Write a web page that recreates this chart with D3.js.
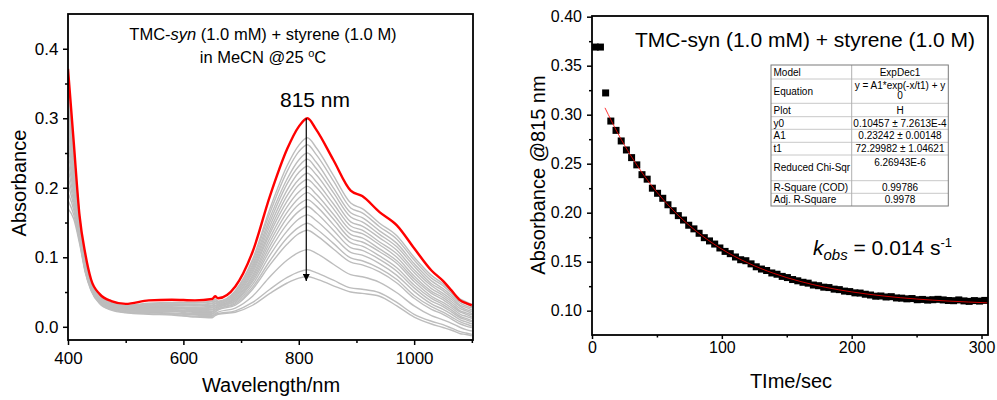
<!DOCTYPE html>
<html>
<head>
<meta charset="utf-8">
<script src="https://cdn.jsdelivr.net/npm/d3@7"></script>
<style>
    html, body { margin: 0; padding: 0; background: #fff; }
    #chart { width: 997px; height: 400px; }
    svg text { font-family: "Liberation Sans", Arial, sans-serif; fill: #000; }
</style>
</head>
<body>
<div id="chart"></div>
<script>
// ---- left panel: UV-vis spectra ----
const wavelengths = [400, 410, 420, 430, 440, 455, 475, 500, 540, 580, 620, 650, 655, 660, 690, 720, 750, 780, 800, 815, 830, 860, 890, 910, 940, 970, 1000, 1030, 1050, 1065, 1080, 1090, 1100];

const redSpectrum = [.371, .265, .160, .105, .068, .047, .037, .033, .038, .039, .038, .040, .044, .041, .058, .108, .188, .256, .288, .300, .284, .240, .196, .188, .165, .146, .113, .081, .066, .052, .038, .034, .031];

const graySpectra = [
    [.355, .255, .160, .100, .066, .045, .035, .031, .034, .035, .035, .037, .040, .037, .052, .097, .170, .232, .261, .272, .258, .218, .178, .170, .149, .131, .100, .074, .062, .051, .040, .036, .032],
    [.343, .249, .157, .099, .065, .044, .034, .030, .033, .034, .034, .036, .039, .036, .051, .094, .164, .224, .252, .262, .248, .210, .171, .164, .144, .126, .096, .070, .059, .048, .037, .033, .029],
    [.332, .243, .155, .097, .064, .044, .034, .030, .032, .033, .032, .034, .037, .035, .049, .090, .157, .213, .240, .250, .237, .200, .164, .157, .138, .120, .091, .066, .055, .045, .034, .030, .027],
    [.320, .236, .153, .096, .063, .043, .033, .029, .031, .032, .031, .033, .036, .034, .047, .087, .151, .206, .231, .241, .228, .193, .158, .151, .133, .115, .087, .062, .052, .042, .031, .028, .024],
    [.309, .230, .150, .095, .063, .042, .032, .028, .030, .031, .030, .031, .034, .033, .046, .084, .145, .197, .222, .231, .219, .185, .151, .145, .128, .110, .082, .059, .048, .039, .029, .025, .022],
    [.297, .224, .148, .093, .062, .041, .032, .028, .029, .029, .028, .030, .033, .032, .044, .081, .139, .189, .212, .221, .209, .177, .145, .139, .122, .105, .078, .055, .045, .036, .026, .023, .019],
    [.286, .218, .145, .092, .061, .041, .031, .027, .028, .028, .027, .028, .031, .031, .043, .078, .134, .181, .204, .212, .201, .170, .139, .134, .118, .100, .073, .051, .042, .033, .023, .020, .017],
    [.274, .211, .143, .090, .060, .040, .030, .026, .027, .027, .026, .027, .030, .030, .041, .074, .128, .173, .194, .202, .191, .162, .133, .128, .112, .095, .069, .048, .039, .030, .021, .018, .014],
    [.263, .205, .140, .089, .059, .039, .030, .026, .026, .026, .025, .025, .028, .030, .040, .071, .122, .165, .185, .193, .183, .155, .127, .122, .108, .091, .065, .044, .035, .027, .018, .015, .012],
    [.251, .199, .138, .088, .058, .038, .029, .025, .025, .025, .023, .024, .027, .028, .038, .068, .116, .157, .176, .183, .174, .147, .121, .116, .102, .085, .060, .041, .032, .024, .015, .012, .009],
    [.239, .193, .135, .086, .057, .038, .028, .024, .024, .024, .022, .022, .025, .028, .037, .065, .110, .148, .166, .173, .164, .139, .114, .110, .097, .080, .056, .037, .029, .021, .013, .010, .007],
    [.228, .186, .133, .085, .056, .037, .027, .023, .023, .023, .021, .021, .024, .026, .035, .061, .103, .138, .155, .161, .153, .130, .107, .103, .091, .074, .051, .033, .025, .018, .010, .007, .004],
    [.216, .180, .130, .084, .056, .036, .027, .023, .022, .022, .019, .019, .022, .025, .033, .057, .095, .128, .143, .149, .141, .120, .099, .095, .084, .068, .045, .029, .021, .014, .007, .004, .001],
    [.205, .174, .128, .082, .055, .035, .026, .022, .021, .020, .018, .018, .021, .024, .031, .054, .089, .119, .134, .139, .132, .112, .093, .089, .079, .063, .041, .025, .018, .011, .004, .001, -.001],
    [.193, .168, .125, .081, .054, .035, .025, .021, .020, .019, .017, .016, .019, .021, .027, .044, .072, .096, .107, .111, .106, .090, .075, .072, .064, .049, .030, .016, .010, .005, -.001, -.004, -.006],
    [.182, .161, .123, .079, .053, .034, .025, .021, .019, .018, .015, .015, .018, .019, .023, .035, .054, .071, .079, .082, .078, .067, .056, .054, .049, .035, .018, .008, .003, -.002, -.007, -.009, -.011],
    [.170, .155, .120, .078, .052, .033, .024, .020, .018, .017, .014, .013, .016, .018, .021, .031, .048, .063, .070, .072, .069, .059, .050, .048, .044, .030, .014, .004, -.001, -.005, -.010, -.011, -.013]
];

// arrow: wavelength, start and end absorbance
const arrowWavelength = 813;
const arrowRange = [0.300, 0.066];

const specXTicks = [400, 600, 800, 1000];
const specXMinor = [500, 700, 900, 1100];
const specYTicks = [0.0, 0.1, 0.2, 0.3, 0.4];
const specYMinor = [0.05, 0.15, 0.25, 0.35];

// ---- right panel: kinetic trace at 815 nm ----
const timePoints = [2.5, 6.5, 10.5, 14.5, 18.5, 22.5, 26.5, 30.5, 34.5, 38.5, 42.5, 46.5, 50.5, 54.5, 58.5, 62.5, 66.5, 70.5, 74.5, 78.5, 82.5, 86.5, 90.5, 94.5, 98.5, 102.5, 106.5, 110.5, 114.5, 118.5, 122.5, 126.5, 130.5, 134.5, 138.5, 142.5, 146.5, 150.5, 154.5, 158.5, 162.5, 166.5, 170.5, 174.5, 178.5, 182.5, 186.5, 190.5, 194.5, 198.5, 202.5, 206.5, 210.5, 214.5, 218.5, 222.5, 226.5, 230.5, 234.5, 238.5, 242.5, 246.5, 250.5, 254.5, 258.5, 262.5, 266.5, 270.5, 274.5, 278.5, 282.5, 286.5, 290.5, 294.5, 298.5, 302.5];

const absorbance815 = [.369, .369, .3222, .2935, .2840, .2732, .2640, .2562, .2488, .2388, .2342, .2250, .2198, .2147, .2081, .2020, .1970, .1925, .1872, .1835, .1790, .1745, .1712, .1680, .1640, .1605, .1582, .1548, .1520, .1510, .1478, .1448, .1425, .1410, .1385, .1372, .1350, .1338, .1318, .1305, .1290, .1281, .1262, .1255, .1240, .1236, .1220, .1215, .1200, .1195, .1182, .1180, .1168, .1160, .1148, .1150, .1140, .1143, .1130, .1128, .1121, .1124, .1112, .1115, .1108, .1112, .1116, .1110, .1104, .1102, .1110, .1100, .1095, .1103, .1098, .1105];

// fitted ExpDec1 curve
const fitTime = [10, 20, 30, 40, 50, 60, 70, 80, 90, 100, 120, 140, 160, 180, 200, 225, 250, 275, 305];
const fitAbs = [.3070, .2808, .2580, .2382, .2209, .2059, .1928, .1814, .1715, .1628, .1488, .1381, .1300, .1238, .1192, .1149, .1119, .1098, .1080];

const kinXTicks = [0, 100, 200, 300];
const kinXMinor = [50, 150, 250];
const kinYTicks = [0.10, 0.15, 0.20, 0.25, 0.30, 0.35, 0.40];
const kinYMinor = [0.125, 0.175, 0.225, 0.275, 0.325, 0.375];

const tableLabels = ['Model', 'Equation', 'Plot', 'y0', 'A1', 't1', 'Reduced Chi-Sqr', 'R-Square (COD)', 'Adj. R-Square'];
const tableValues = [['ExpDec1'], ['y = A1*exp(-x/t1) + y', '0'], ['H'], ['0.10457 \u00b1 7.2613E-4'], ['0.23242 \u00b1 0.00148'], ['72.29982 \u00b1 1.04621'], ['6.26943E-6'], ['0.99786'], ['0.9978']];

document.addEventListener('DOMContentLoaded', () => {
    try {
        const svg = d3.select('#chart')
            .append('svg')
            .attr('width', 997)
            .attr('height', 400)
            .attr('viewBox', '0 0 997 400');

        svg.append('rect').attr('width', 997).attr('height', 400).attr('fill', '#fff');

        // helper for tick axes without domain line
        const styleAxis = (g, size) => {
            g.select('.domain').remove();
            g.selectAll('.tick line').attr('stroke', '#000').attr('stroke-width', 1.5);
            g.selectAll('.tick text').style('font-size', size + 'px');
        };

        // ================= LEFT PANEL =================
        const L = { left: 68, right: 473, top: 14, bottom: 340 };

        const xSpec = d3.scaleLinear().domain([400, 1102]).range([L.left, L.right]);
        const ySpec = d3.scaleLinear().domain([-0.019, 0.45]).range([L.bottom, L.top]);

        svg.append('clipPath').attr('id', 'clip-left')
            .append('rect')
            .attr('x', L.left).attr('y', L.top)
            .attr('width', L.right - L.left).attr('height', L.bottom - L.top);

        const specLine = d3.line()
            .x((d, i) => xSpec(wavelengths[i]))
            .y(d => ySpec(d))
            .curve(d3.curveMonotoneX);

        const spectraG = svg.append('g').attr('clip-path', 'url(#clip-left)');

        spectraG.selectAll('path.gray')
            .data(graySpectra.slice().reverse())
            .enter()
            .append('path')
            .attr('class', 'gray')
            .attr('d', specLine)
            .attr('fill', 'none')
            .attr('stroke', '#bdbdbd')
            .attr('stroke-width', 1.4);

        spectraG.append('path')
            .datum(redSpectrum)
            .attr('d', specLine)
            .attr('fill', 'none')
            .attr('stroke', '#ff0000')
            .attr('stroke-width', 2.4);

        // arrow showing decay
        svg.append('defs').append('marker')
            .attr('id', 'arrow-head')
            .attr('viewBox', '0 0 10 10')
            .attr('refX', 10).attr('refY', 5)
            .attr('markerWidth', 7).attr('markerHeight', 7)
            .attr('markerUnits', 'userSpaceOnUse')
            .attr('orient', 'auto')
            .append('path')
            .attr('d', 'M0,0 L10,5 L0,10 Z')
            .attr('fill', '#000');

        svg.append('line')
            .attr('x1', xSpec(arrowWavelength)).attr('x2', xSpec(arrowWavelength))
            .attr('y1', ySpec(arrowRange[0])).attr('y2', ySpec(arrowRange[1]))
            .attr('stroke', '#000')
            .attr('stroke-width', 1.2)
            .attr('marker-end', 'url(#arrow-head)');

        // axes
        svg.append('g')
            .attr('transform', `translate(0,${L.bottom})`)
            .call(d3.axisBottom(xSpec).tickValues(specXTicks).tickSize(5).tickPadding(7).tickFormat(d3.format('d')))
            .call(g => styleAxis(g, 17));
        svg.append('g')
            .attr('transform', `translate(0,${L.bottom})`)
            .call(d3.axisBottom(xSpec).tickValues(specXMinor).tickSize(3).tickFormat(''))
            .call(g => styleAxis(g, 17));

        svg.append('g')
            .attr('transform', `translate(${L.left},0)`)
            .call(d3.axisLeft(ySpec).tickValues(specYTicks).tickSize(5).tickPadding(4.5).tickFormat(d3.format('.1f')))
            .call(g => styleAxis(g, 17));
        svg.append('g')
            .attr('transform', `translate(${L.left},0)`)
            .call(d3.axisLeft(ySpec).tickValues(specYMinor).tickSize(3).tickFormat(''))
            .call(g => styleAxis(g, 17));

        svg.append('rect')
            .attr('x', L.left).attr('y', L.top)
            .attr('width', L.right - L.left).attr('height', L.bottom - L.top)
            .attr('fill', 'none')
            .attr('stroke', '#000')
            .attr('stroke-width', 1.8);

        // labels
        svg.append('text')
            .attr('x', 271).attr('y', 392)
            .attr('text-anchor', 'middle')
            .style('font-size', '20px')
            .text('Wavelength/nm');

        svg.append('text')
            .attr('transform', 'translate(26,183) rotate(-90)')
            .attr('text-anchor', 'middle')
            .style('font-size', '20px')
            .text('Absorbance');

        const t1 = svg.append('text')
            .attr('x', 263).attr('y', 40)
            .attr('text-anchor', 'middle')
            .style('font-size', '16.5px');
        t1.append('tspan').text('TMC-');
        t1.append('tspan').style('font-style', 'italic').text('syn');
        t1.append('tspan').text(' (1.0 mM) + styrene (1.0 M)');

        const t2 = svg.append('text')
            .attr('x', 263).attr('y', 63)
            .attr('text-anchor', 'middle')
            .style('font-size', '16.5px');
        t2.append('tspan').text('in MeCN @25 ');
        t2.append('tspan').attr('dy', -6).style('font-size', '11px').text('o');
        t2.append('tspan').attr('dy', 6).text('C');

        svg.append('text')
            .attr('x', 315).attr('y', 106.5)
            .attr('text-anchor', 'middle')
            .style('font-size', '21px')
            .text('815 nm');

        // ================= RIGHT PANEL =================
        const R = { left: 592, right: 988, top: 16, bottom: 335 };

        const xKin = d3.scaleLinear().domain([0, 305]).range([R.left, R.right]);
        const yKin = d3.scaleLinear().domain([0.0752, 0.4007]).range([R.bottom, R.top]);

        svg.append('clipPath').attr('id', 'clip-right')
            .append('rect')
            .attr('x', R.left).attr('y', R.top)
            .attr('width', R.right - R.left).attr('height', R.bottom - R.top);

        const kinG = svg.append('g').attr('clip-path', 'url(#clip-right)');

        const sq = 7;
        kinG.selectAll('rect.pt')
            .data(absorbance815)
            .enter()
            .append('rect')
            .attr('class', 'pt')
            .attr('x', (d, i) => xKin(timePoints[i]) - sq / 2)
            .attr('y', d => yKin(d) - sq / 2)
            .attr('width', sq)
            .attr('height', sq)
            .attr('fill', '#000');

        kinG.append('path')
            .datum(fitAbs)
            .attr('d', d3.line()
                .x((d, i) => xKin(fitTime[i]))
                .y(d => yKin(d))
                .curve(d3.curveMonotoneX))
            .attr('fill', 'none')
            .attr('stroke', '#ff0000')
            .attr('stroke-width', 0.8);

        svg.append('g')
            .attr('transform', `translate(0,${R.bottom})`)
            .call(d3.axisBottom(xKin).tickValues(kinXTicks).tickSize(4).tickPadding(3).tickFormat(d3.format('d')))
            .call(g => styleAxis(g, 16));
        svg.append('g')
            .attr('transform', `translate(0,${R.bottom})`)
            .call(d3.axisBottom(xKin).tickValues(kinXMinor).tickSize(2.5).tickFormat(''))
            .call(g => styleAxis(g, 16));

        svg.append('g')
            .attr('transform', `translate(${R.left},0)`)
            .call(d3.axisLeft(yKin).tickValues(kinYTicks).tickSize(5).tickPadding(5).tickFormat(d3.format('.2f')))
            .call(g => styleAxis(g, 16));
        svg.append('g')
            .attr('transform', `translate(${R.left},0)`)
            .call(d3.axisLeft(yKin).tickValues(kinYMinor).tickSize(3).tickFormat(''))
            .call(g => styleAxis(g, 16));

        svg.append('rect')
            .attr('x', R.left).attr('y', R.top)
            .attr('width', R.right - R.left).attr('height', R.bottom - R.top)
            .attr('fill', 'none')
            .attr('stroke', '#000')
            .attr('stroke-width', 1.8);

        svg.append('text')
            .attr('x', 791).attr('y', 388)
            .attr('text-anchor', 'middle')
            .style('font-size', '20px')
            .text('TIme/sec');

        svg.append('text')
            .attr('transform', 'translate(545,175) rotate(-90)')
            .attr('text-anchor', 'middle')
            .style('font-size', '20px')
            .text('Absorbance @815 nm');

        svg.append('text')
            .attr('x', 805).attr('y', 47)
            .attr('text-anchor', 'middle')
            .style('font-size', '21px')
            .text('TMC-syn (1.0 mM) + styrene (1.0 M)');

        const k = svg.append('text')
            .attr('x', 813).attr('y', 255)
            .style('font-size', '21px');
        k.append('tspan').style('font-style', 'italic').text('k');
        k.append('tspan').attr('dy', 5).style('font-style', 'italic').style('font-size', '15px').text('obs');
        k.append('tspan').attr('dy', -5).text(' = 0.014 s');
        k.append('tspan').attr('dy', -8).style('font-size', '13px').text('-1');

        // fit results table
        const tbl = { left: 771, mid: 851.7, right: 948.3 };
        const rowEdges = [65, 79, 103.3, 116.7, 129.3, 142.3, 155, 180.7, 193.3, 206];
        const tableG = svg.append('g');

        tableG.append('rect')
            .attr('x', tbl.left).attr('y', rowEdges[0])
            .attr('width', tbl.right - tbl.left)
            .attr('height', rowEdges[rowEdges.length - 1] - rowEdges[0])
            .attr('fill', '#fff');

        tableG.selectAll('line.row')
            .data(rowEdges.slice(1, -1))
            .enter()
            .append('line')
            .attr('x1', tbl.left).attr('x2', tbl.right)
            .attr('y1', d => d).attr('y2', d => d)
            .attr('stroke', '#c8c8c8')
            .attr('stroke-width', 1);

        tableG.append('line')
            .attr('x1', tbl.mid).attr('x2', tbl.mid)
            .attr('y1', rowEdges[0]).attr('y2', rowEdges[rowEdges.length - 1])
            .attr('stroke', '#b0b0b0')
            .attr('stroke-width', 1);

        tableG.append('rect')
            .attr('x', tbl.left).attr('y', rowEdges[0])
            .attr('width', tbl.right - tbl.left)
            .attr('height', rowEdges[rowEdges.length - 1] - rowEdges[0])
            .attr('fill', 'none')
            .attr('stroke', '#7a7a7a')
            .attr('stroke-width', 1);

        tableLabels.forEach((label, i) => {
            const top = rowEdges[i];
            const h = rowEdges[i + 1] - top;
            tableG.append('text')
                .attr('x', tbl.left + 2.5)
                .attr('y', top + h / 2 + 3.6)
                .style('font-size', '10px')
                .text(label);

            const vals = tableValues[i];
            vals.forEach((v, j) => {
                let y;
                if (vals.length > 1) y = top + 9.5 + j * 10.5;
                else if (h > 20) y = top + 11;
                else y = top + h / 2 + 3.6;
                tableG.append('text')
                    .attr('x', (tbl.mid + tbl.right) / 2)
                    .attr('y', y)
                    .attr('text-anchor', 'middle')
                    .style('font-size', '10px')
                    .text(v);
            });
        });

    } catch (error) {
        console.error('Error creating chart:', error);
        document.getElementById('chart').innerHTML = `<p>Error loading chart: ${error.message}</p>`;
    }
});
</script>
</body>
</html>
